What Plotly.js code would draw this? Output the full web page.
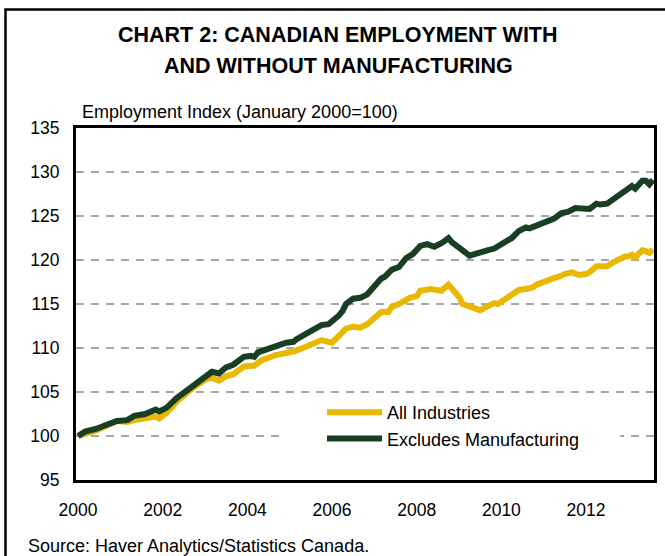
<!DOCTYPE html>
<html>
<head>
<meta charset="utf-8">
<script src="https://cdn.plot.ly/plotly-3.0.1.min.js"></script>
<style>
  html, body { margin: 0; padding: 0; background: #fff; }
  #chart { width: 665px; height: 556px; }
</style>
</head>
<body>
<div id="chart"></div>
<script>
// ---- Data ----
const allDates = [
  "2000-01","2000-06","2000-12","2001-03","2001-05","2001-08","2001-11","2001-12",
  "2002-02","2002-05","2002-08","2002-10","2003-01","2003-03","2003-05","2003-07",
  "2003-09","2003-12","2004-03","2004-05","2004-09","2005-02","2005-06","2005-08",
  "2005-10","2006-01","2006-03","2006-05","2006-07","2006-09","2006-11","2007-01",
  "2007-03","2007-05","2007-06","2007-08","2007-11","2008-01","2008-02","2008-05",
  "2008-08","2008-10","2008-11","2009-01","2009-02","2009-04","2009-07","2009-09",
  "2009-11","2009-12","2010-02","2010-04","2010-06","2010-08","2010-10","2010-11",
  "2011-01","2011-03","2011-06","2011-07","2011-09","2011-11","2012-01","2012-02",
  "2012-04","2012-06","2012-07","2012-09","2012-12","2013-01","2013-02","2013-03",
  "2013-05","2013-06","2013-07","2013-08"
];
const allIndustries = [
  100.0,100.6,101.7,101.6,101.8,102.0,102.2,102.0,
  102.6,103.9,105.0,105.6,106.4,106.6,106.3,106.8,
  107.0,107.9,108.0,108.6,109.2,109.6,110.2,110.6,
  110.9,110.6,111.4,112.2,112.4,112.3,112.7,113.4,
  114.1,114.1,114.7,115.0,115.7,115.9,116.5,116.7,
  116.5,117.2,116.7,115.8,115.0,114.7,114.3,114.7,
  115.1,115.0,115.5,116.0,116.6,116.7,116.9,117.2,
  117.6,117.8,118.2,118.4,118.6,118.3,118.4,118.6,
  119.3,119.4,119.3,119.8,120.4,120.4,120.6,120.3,
  121.1,121.0,120.8,121.2
];

const exDates = [
  "2000-01","2000-03","2000-06","2000-09","2000-12","2001-03","2001-05","2001-08",
  "2001-11","2001-12","2002-02","2002-05","2002-08","2002-10","2003-01","2003-03",
  "2003-05","2003-07","2003-09","2003-12","2004-02","2004-03","2004-04","2004-07",
  "2004-09","2004-12","2005-02","2005-03","2005-06","2005-08","2005-10","2005-12",
  "2006-02","2006-03","2006-04","2006-05","2006-07","2006-09","2006-11","2007-01",
  "2007-03","2007-04","2007-06","2007-08","2007-10","2007-12","2008-02","2008-04",
  "2008-06","2008-08","2008-10","2008-11","2009-01","2009-03","2009-04","2009-06",
  "2009-07","2009-09","2009-11","2010-01","2010-02","2010-04","2010-06","2010-08",
  "2010-09","2010-11","2010-12","2011-02","2011-04","2011-06","2011-08","2011-10",
  "2011-12","2012-02","2012-04","2012-05","2012-07","2012-09","2012-10","2012-12",
  "2013-02","2013-03","2013-05","2013-06","2013-07","2013-08"
];
const excludesManufacturing = [
  100.0,100.5,100.8,101.2,101.7,101.8,102.3,102.5,
  103.0,102.8,103.2,104.3,105.2,106.0,106.9,107.3,
  107.1,107.8,108.1,109.0,109.1,109.0,109.5,109.9,
  110.3,110.6,110.7,111.0,111.7,112.2,112.6,112.7,
  113.3,113.7,114.2,115.0,115.6,115.7,116.1,117.0,
  117.9,118.1,118.9,119.2,120.2,120.7,121.6,121.8,
  121.5,121.9,122.5,122.0,121.3,120.8,120.5,120.8,
  120.8,121.1,121.3,121.8,122.2,122.5,123.3,123.7,
  123.6,123.9,124.0,124.4,124.7,125.3,125.5,125.9,
  125.9,125.8,126.4,126.3,126.4,127.0,127.3,127.8,
  128.4,128.1,129.0,129.0,128.6,129.1
];

const seriesNames = ["All Industries", "Excludes Manufacturing"];
const seriesColors = ["#E9B800", "#183F21"];
const yTicks = [95, 100, 105, 110, 115, 120, 125, 130, 135];
const titleLines = ["CHART 2: CANADIAN EMPLOYMENT WITH", "AND WITHOUT MANUFACTURING"];
const yLabelText = "Employment Index (January 2000=100)";
const sourceText = "Source: Haver Analytics/Statistics Canada.";

// ---- Layout geometry (pixels) ----
const W = 665, H = 556;
const M = { l: 76, r: 11, t: 128, b: 76 };
const pw = W - M.l - M.r, ph = H - M.t - M.b;
const px = x => (x - M.l) / pw;          // pixel x -> paper
const py = y => (H - M.b - y) / ph;      // pixel y -> paper

const FONT = "Liberation Sans, Arial, sans-serif";

const traces = [
  {
    x: allDates, y: allIndustries, type: "scatter", mode: "lines",
    name: seriesNames[0], legendgroup: "a",
    line: { color: seriesColors[0], width: 6, shape: "linear" }
  },
  {
    x: exDates, y: excludesManufacturing, type: "scatter", mode: "lines",
    name: seriesNames[1], legendgroup: "b",
    line: { color: seriesColors[1], width: 6, shape: "linear" }
  }
];

const titleAnnots = titleLines.map((t, i) => ({
  text: t, xref: "paper", yref: "paper",
  x: px(338), y: py(i === 0 ? 35 : 65.5), xanchor: "center", yanchor: "middle",
  showarrow: false,
  font: { family: FONT, size: 21.5, color: "#000", weight: "bold" }
}));

const layout = {
  width: W, height: H,
  margin: M,
  paper_bgcolor: "#fff",
  plot_bgcolor: "#fff",
  font: { family: FONT, size: 17.5, color: "#000" },
  showlegend: true,
  legend: {
    x: px(322), xanchor: "left",
    y: py(394), yanchor: "top",
    bgcolor: "rgba(0,0,0,0)",
    borderwidth: 0,
    font: { family: FONT, size: 18, color: "#000" },
    itemwidth: 55,
    tracegroupgap: 5,
    traceorder: "normal"
  },
  xaxis: {
    type: "date",
    range: ["1999-12-14", "2013-08-10"],
    tick0: "2000-01-01", dtick: "M24",
    tickformat: "%Y",
    ticks: "", showgrid: false, zeroline: false,
    showline: true, linecolor: "#000", linewidth: 3, mirror: true,
    tickfont: { family: FONT, size: 17.5, color: "#000" },
    ticklabelstandoff: 12
  },
  yaxis: {
    range: [95, 135],
    tickvals: yTicks,
    ticks: "", zeroline: false,
    showgrid: true, gridcolor: "#a6a6a6", gridwidth: 1.3, griddash: "8px,7px",
    showline: true, linecolor: "#000", linewidth: 3, mirror: true,
    tickfont: { family: FONT, size: 17.5, color: "#000" },
    ticklabelstandoff: 10
  },
  shapes: [
    // white patch behind the legend (hides the gridline there)
    { type: "rect", xref: "paper", yref: "paper", layer: "above",
      x0: px(285), x1: px(620), y0: py(456), y1: py(400),
      fillcolor: "#fff", line: { width: 0 } },
    // outer frame of the figure
    { type: "rect", xref: "paper", yref: "paper", layer: "above",
      x0: px(5.5), x1: px(672), y0: py(565), y1: py(9.5),
      fillcolor: "rgba(0,0,0,0)", line: { color: "#000", width: 2.5 } }
  ],
  annotations: titleAnnots.concat([
    { text: yLabelText, xref: "paper", yref: "paper",
      x: px(80), y: py(112), xanchor: "left", yanchor: "middle",
      showarrow: false, font: { family: FONT, size: 18, color: "#000" } },
    { text: sourceText, xref: "paper", yref: "paper",
      x: px(26), y: py(546), xanchor: "left", yanchor: "middle",
      showarrow: false, font: { family: FONT, size: 18, color: "#000" } }
  ])
};

Plotly.newPlot("chart", traces, layout, { staticPlot: true, displayModeBar: false });
</script>
</body>
</html>
